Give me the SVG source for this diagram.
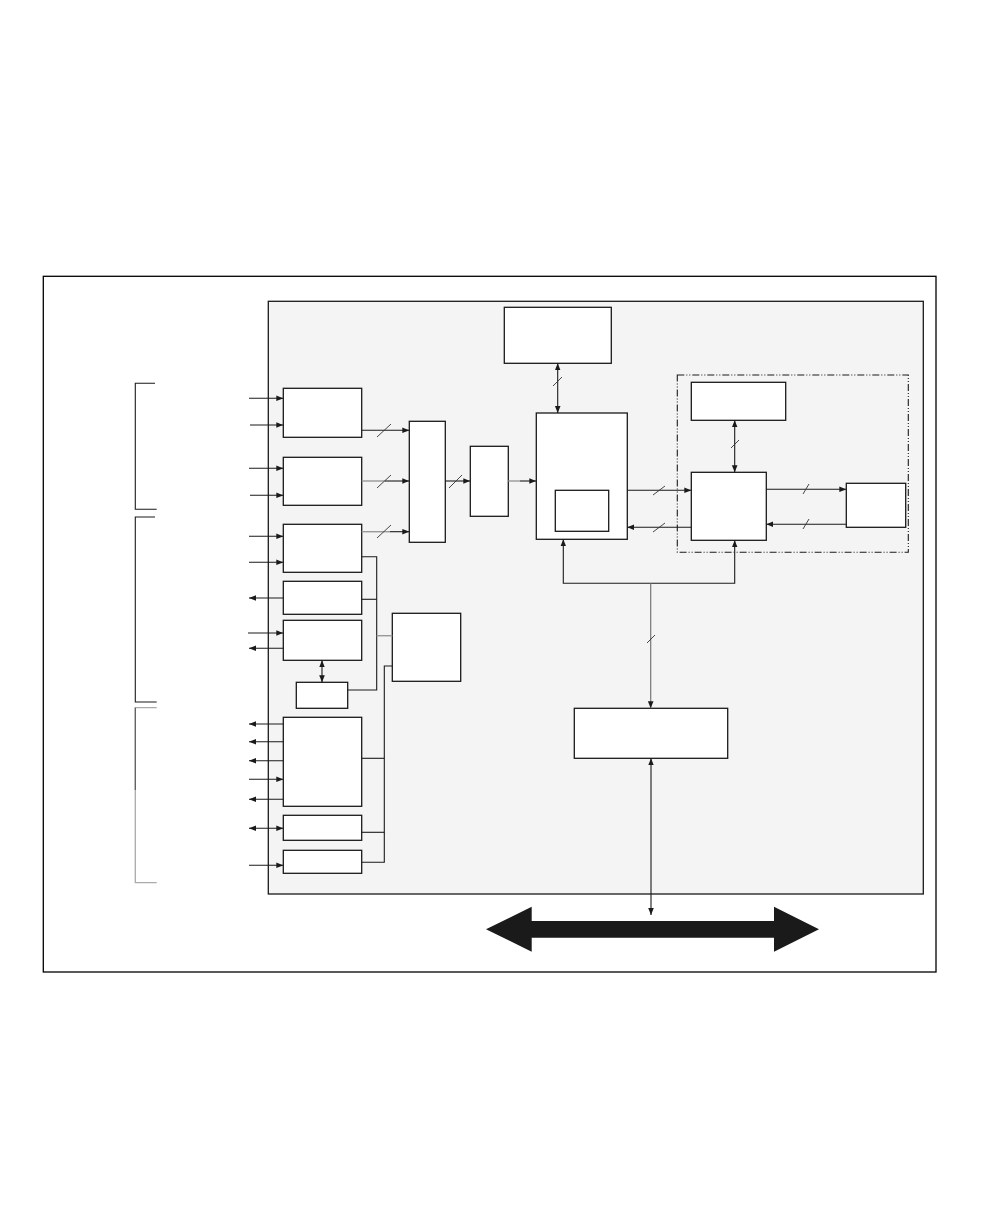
<svg xmlns="http://www.w3.org/2000/svg" width="1008" height="1224" viewBox="0 0 1008 1224">
<style>
.box{fill:#fff;stroke:#1a1a1a;stroke-width:1.3}
.ln{fill:none;stroke:#1a1a1a;stroke-width:1.1}
.gl{fill:none;stroke:#999;stroke-width:1.4}
.sl{stroke:#333;stroke-width:0.9}
</style>
<defs>
<marker id="ah" viewBox="0 0 10 10" refX="10" refY="5" markerWidth="7" markerHeight="7" markerUnits="userSpaceOnUse" orient="auto-start-reverse">
<path d="M0,1 L10,5 L0,9 Z" fill="#1a1a1a"/>
</marker>
</defs>
<rect width="1008" height="1224" fill="#fff"/>
<rect id="frame" x="43.3" y="276.3" width="892.7" height="695.7" fill="#fff" stroke="#000" stroke-width="1.3"/>
<rect id="panel" x="268.3" y="301.3" width="655" height="592.7" fill="#f4f4f4" stroke="#1a1a1a" stroke-width="1.3"/>
<rect id="dashbox" x="677.3" y="375" width="231" height="177.3" fill="none" stroke="#1a1a1a" stroke-width="1.1" stroke-dasharray="7,2,1,2,1,2"/>

<g id="brackets">
<path class="ln" d="M155,383.3 H135.3 V509.3 H156.7"/>
<path class="ln" d="M155,517 H135.3 V702 H156.7"/>
<path d="M156.7,707.7 H135.3 V882.7 H156.7" fill="none" stroke="#aaa" stroke-width="1.3"/>
<path d="M135.3,707.7 V790" fill="none" stroke="#555" stroke-width="1.1"/>
</g>

<g id="n1"><rect class="box" x="283.3" y="388.3" width="78.4" height="49"/></g>
<g id="n2"><rect class="box" x="283.3" y="457.3" width="78.4" height="48"/></g>
<g id="n3"><rect class="box" x="283.3" y="524.3" width="78.4" height="48"/></g>
<g id="n4"><rect class="box" x="283.3" y="581.3" width="78.4" height="33"/></g>
<g id="n5"><rect class="box" x="283.3" y="620.3" width="78.4" height="40"/></g>
<g id="n6"><rect class="box" x="296.3" y="682.3" width="51.4" height="26"/></g>
<g id="n7"><rect class="box" x="283.3" y="717.3" width="78.4" height="89"/></g>
<g id="n8"><rect class="box" x="283.3" y="815.3" width="78.4" height="25"/></g>
<g id="n9"><rect class="box" x="283.3" y="850.3" width="78.4" height="23"/></g>
<g id="n10"><rect class="box" x="392.3" y="613.3" width="68.4" height="68"/></g>
<g id="n11"><rect class="box" x="409.3" y="421.3" width="36" height="121"/></g>
<g id="n12"><rect class="box" x="470.3" y="446.3" width="38" height="70"/></g>
<g id="n13"><rect class="box" x="536.3" y="413" width="91" height="126.3"/></g>
<g id="n14"><rect class="box" x="555.3" y="490.3" width="53.4" height="41"/></g>
<g id="n15"><rect class="box" x="504.3" y="307.3" width="107" height="56"/></g>
<g id="n16"><rect class="box" x="691.3" y="382.3" width="94.4" height="38"/></g>
<g id="n17"><rect class="box" x="691.3" y="472.3" width="75" height="68"/></g>
<g id="n18"><rect class="box" x="846.3" y="483.3" width="59.4" height="44"/></g>
<g id="n19"><rect class="box" x="574.3" y="708.3" width="153.4" height="50"/></g>

<g id="connectors">
<!-- external inputs/outputs -->
<line class="ln" x1="249" y1="398.3" x2="283.3" y2="398.3" marker-end="url(#ah)"/>
<line class="ln" x1="250" y1="425" x2="283.3" y2="425" marker-end="url(#ah)"/>
<line class="ln" x1="249" y1="468.3" x2="283.3" y2="468.3" marker-end="url(#ah)"/>
<line class="ln" x1="250" y1="495.3" x2="283.3" y2="495.3" marker-end="url(#ah)"/>
<line class="ln" x1="249" y1="536.3" x2="283.3" y2="536.3" marker-end="url(#ah)"/>
<line class="ln" x1="249" y1="562.3" x2="283.3" y2="562.3" marker-end="url(#ah)"/>
<line class="ln" x1="283.3" y1="598" x2="249" y2="598" marker-end="url(#ah)"/>
<line class="ln" x1="248" y1="633" x2="283.3" y2="633" marker-end="url(#ah)"/>
<line class="ln" x1="283.3" y1="648.3" x2="249" y2="648.3" marker-end="url(#ah)"/>
<line class="ln" x1="322" y1="660.3" x2="322" y2="682.3" marker-start="url(#ah)" marker-end="url(#ah)"/>
<line class="ln" x1="283.3" y1="724" x2="249" y2="724" marker-end="url(#ah)"/>
<line class="ln" x1="283.3" y1="741.7" x2="249" y2="741.7" marker-end="url(#ah)"/>
<line class="ln" x1="283.3" y1="760.7" x2="249" y2="760.7" marker-end="url(#ah)"/>
<line class="ln" x1="249" y1="779.3" x2="283.3" y2="779.3" marker-end="url(#ah)"/>
<line class="ln" x1="283.3" y1="799.3" x2="249" y2="799.3" marker-end="url(#ah)"/>
<line class="ln" x1="249" y1="828.3" x2="283.3" y2="828.3" marker-start="url(#ah)" marker-end="url(#ah)"/>
<line class="ln" x1="249" y1="865.3" x2="283.3" y2="865.3" marker-end="url(#ah)"/>

<!-- to mux -->
<line class="ln" x1="361.7" y1="430.3" x2="409.3" y2="430.3" marker-end="url(#ah)"/>
<line class="sl" x1="377" y1="437" x2="391" y2="424"/>
<line class="gl" x1="361.7" y1="481" x2="385" y2="481"/>
<line class="ln" x1="385" y1="481" x2="409.3" y2="481" marker-end="url(#ah)"/>
<line class="sl" x1="377" y1="488" x2="391" y2="475"/>
<line class="gl" x1="361.7" y1="531.7" x2="390" y2="531.7"/>
<line class="ln" x1="390" y1="531.7" x2="409.3" y2="531.7" marker-end="url(#ah)"/>
<line class="sl" x1="377" y1="538" x2="391" y2="525"/>
<line class="ln" x1="445.3" y1="481" x2="470.3" y2="481" marker-end="url(#ah)"/>
<line class="sl" x1="449" y1="488" x2="462" y2="475"/>
<line class="gl" x1="508.3" y1="481" x2="520" y2="481"/>
<line class="ln" x1="520" y1="481" x2="536.3" y2="481" marker-end="url(#ah)"/>

<!-- left bus 1 -->
<path class="ln" d="M361.7,556.7 H376.7 V690 H347.7"/>
<line class="ln" x1="361.7" y1="599.3" x2="376.7" y2="599.3"/>
<line class="gl" x1="376.7" y1="635.7" x2="392.3" y2="635.7"/>
<!-- left bus 2 -->
<path class="ln" d="M392.3,666 H384.3 V862.3 H361.7"/>
<line class="ln" x1="361.7" y1="758.3" x2="384.3" y2="758.3"/>
<line class="ln" x1="361.7" y1="832.3" x2="384.3" y2="832.3"/>

<!-- top box to n13 -->
<line class="ln" x1="557.7" y1="363.3" x2="557.7" y2="413" marker-start="url(#ah)" marker-end="url(#ah)"/>
<line class="sl" x1="553" y1="386" x2="562" y2="377"/>

<!-- n13 <-> n17 -->
<line class="ln" x1="627.3" y1="490.3" x2="691.3" y2="490.3" marker-end="url(#ah)"/>
<line class="sl" x1="653" y1="495" x2="665" y2="486"/>
<line class="ln" x1="691.3" y1="527.3" x2="627.3" y2="527.3" marker-end="url(#ah)"/>
<line class="sl" x1="653" y1="532" x2="665" y2="523"/>

<!-- n16 <-> n17 -->
<line class="ln" x1="734.7" y1="420.3" x2="734.7" y2="472.3" marker-start="url(#ah)" marker-end="url(#ah)"/>
<line class="sl" x1="731" y1="448" x2="739" y2="440"/>

<!-- n17 <-> n18 -->
<line class="ln" x1="766.3" y1="489.3" x2="846.3" y2="489.3" marker-end="url(#ah)"/>
<line class="sl" x1="803" y1="494" x2="809" y2="484"/>
<line class="ln" x1="846.3" y1="524.3" x2="766.3" y2="524.3" marker-end="url(#ah)"/>
<line class="sl" x1="803" y1="529" x2="809" y2="519"/>

<!-- bus to n13 and n17 -->
<path class="ln" d="M563.3,539.3 V583.3 H734.7 V540.3" marker-start="url(#ah)" marker-end="url(#ah)"/>
<line x1="650.7" y1="583.3" x2="650.7" y2="708.3" stroke="#777" stroke-width="1.2" marker-end="url(#ah)"/>
<line class="sl" x1="647" y1="643" x2="655" y2="635"/>

<!-- n19 to system bus -->
<line class="ln" x1="651" y1="758.3" x2="651" y2="915" marker-start="url(#ah)" marker-end="url(#ah)"/>

<!-- big bus arrow -->
<path d="M486,929.3 L531.7,906.7 L531.7,921 L774,921 L774,906.7 L819,929.3 L774,951.7 L774,937.7 L531.7,937.7 L531.7,951.7 Z" fill="#1a1a1a"/>
</g>
</svg>
